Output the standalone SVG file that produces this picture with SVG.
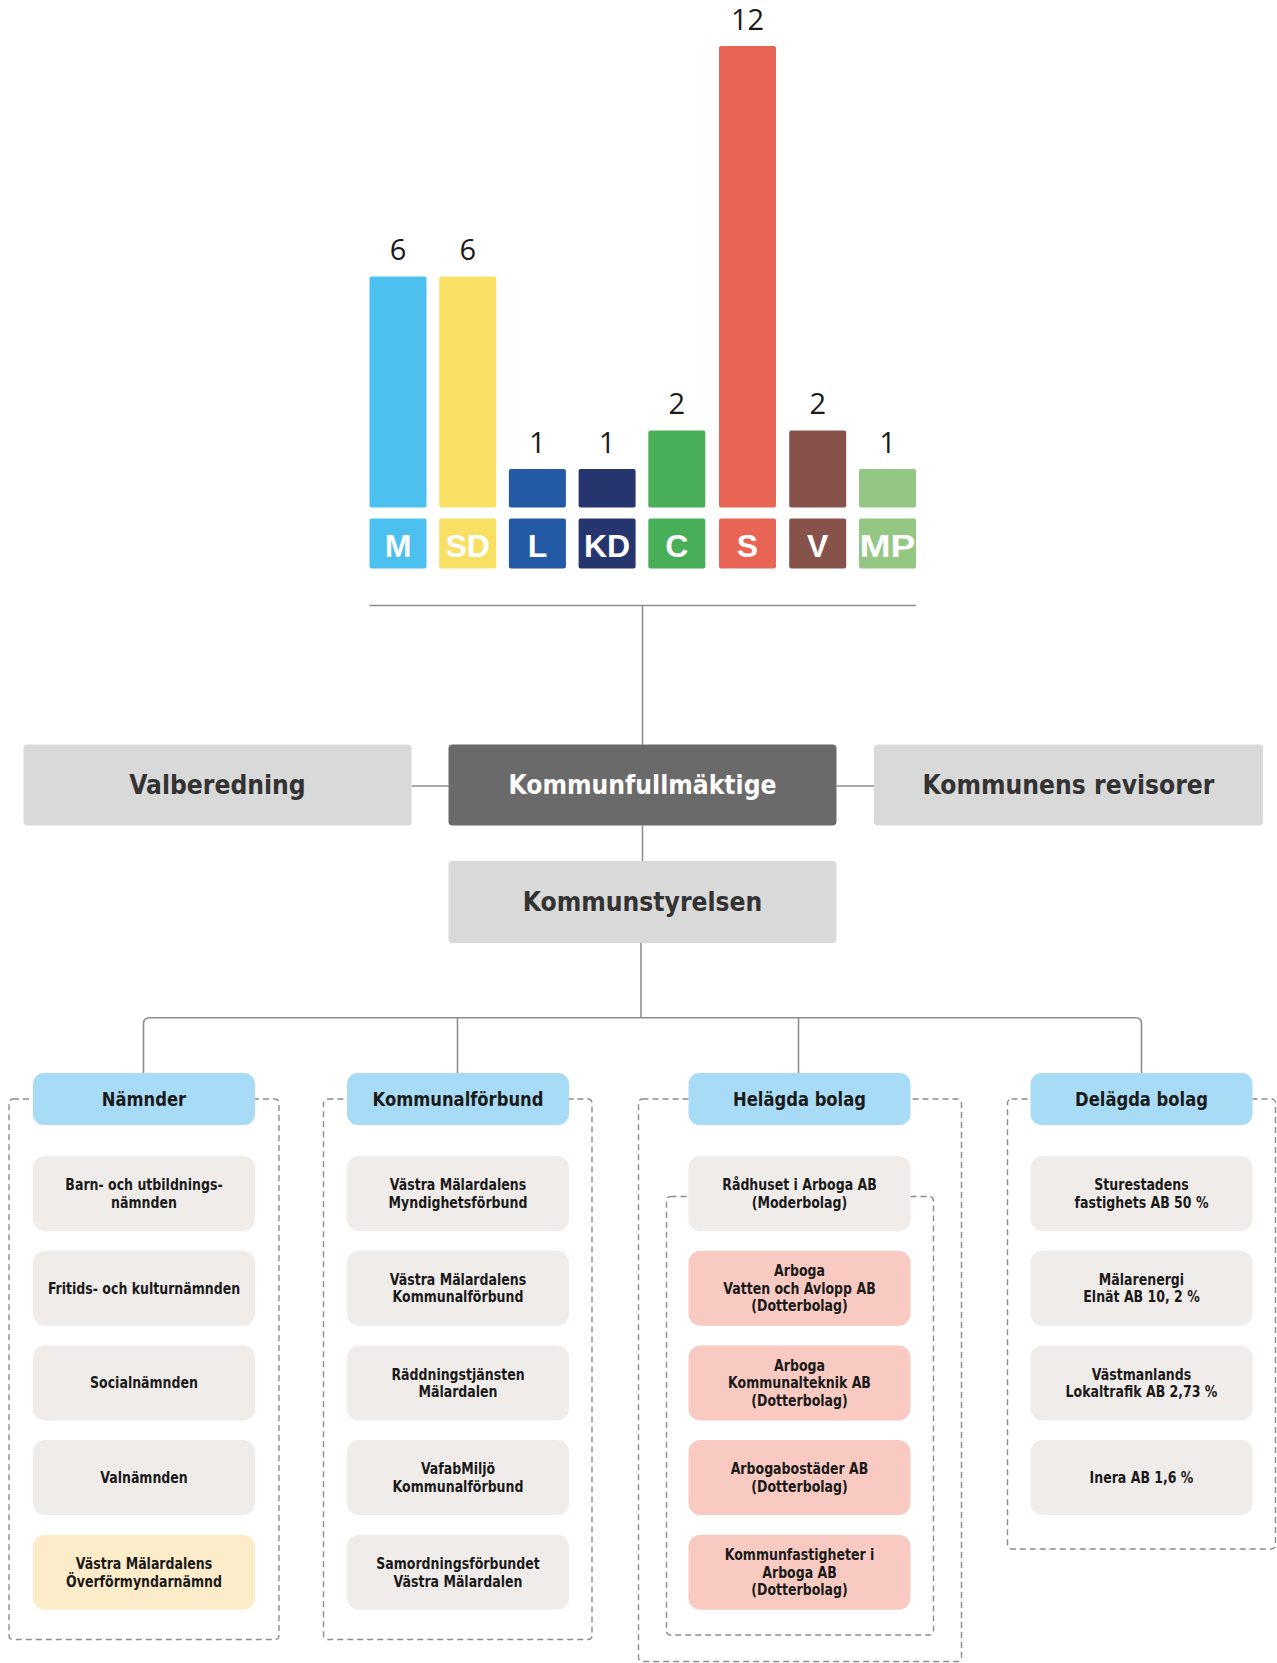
<svg xmlns="http://www.w3.org/2000/svg" width="1277" height="1663" viewBox="0 0 1277 1663">
<style>
.num{font-family:"Open Sans","Lato","Liberation Sans",sans-serif;font-size:29px;fill:#1a1a1a;text-anchor:middle}
.plab{font-family:"Liberation Sans","Arial",sans-serif;font-weight:bold;font-size:32px;fill:#ffffff;text-anchor:middle}
.cond{font-family:"Liberation Sans Narrow","DejaVu Sans Condensed","Roboto Condensed","Liberation Sans",sans-serif;font-stretch:condensed;font-weight:bold;text-anchor:middle}
.big{font-size:27px;fill:#333333}
.bigw{font-size:27px;fill:#ffffff}
.hd{font-size:20px;fill:#1a1a1a}
.ch{font-size:15px;fill:#1a1a1a}
.gbox{fill:#d9d9d9}
.hbox{fill:#a8dbf5}
.cbox{fill:#f0ecea}
.pbox{fill:#f8cac2}
.ybox{fill:#fdecc9}
.conn{fill:none;stroke:#8c8c8c;stroke-width:1.6}
.dash{fill:none;stroke:#8c8c8c;stroke-width:1.4;stroke-dasharray:6 4}
</style>

<g id="chart">
  <g id="party-M">
    <rect x="369.5" y="276.5" width="57" height="231" rx="2" fill="#4cc1ef"/>
    <text class="num" x="398" y="260">6</text>
    <rect x="369.5" y="518.5" width="57" height="50" rx="2" fill="#4cc1ef"/>
    <text class="plab" x="398" y="556.5">M</text>
  </g>
  <g id="party-SD">
    <rect x="439.2" y="276.5" width="57" height="231" rx="2" fill="#f8e064"/>
    <text class="num" x="467.7" y="260">6</text>
    <rect x="439.2" y="518.5" width="57" height="50" rx="2" fill="#f8e064"/>
    <text class="plab" x="467.7" y="556.5">SD</text>
  </g>
  <g id="party-L">
    <rect x="508.9" y="469" width="57" height="38.5" rx="2" fill="#2359a5"/>
    <text class="num" x="537.4" y="452.5">1</text>
    <rect x="508.9" y="518.5" width="57" height="50" rx="2" fill="#2359a5"/>
    <text class="plab" x="537.4" y="556.5">L</text>
  </g>
  <g id="party-KD">
    <rect x="578.6" y="469" width="57" height="38.5" rx="2" fill="#27356f"/>
    <text class="num" x="607.1" y="452.5">1</text>
    <rect x="578.6" y="518.5" width="57" height="50" rx="2" fill="#27356f"/>
    <text class="plab" x="607.1" y="556.5">KD</text>
  </g>
  <g id="party-C">
    <rect x="648.3" y="430.5" width="57" height="77" rx="2" fill="#48ae57"/>
    <text class="num" x="676.8" y="414">2</text>
    <rect x="648.3" y="518.5" width="57" height="50" rx="2" fill="#48ae57"/>
    <text class="plab" x="676.8" y="556.5">C</text>
  </g>
  <g id="party-S">
    <rect x="719" y="46" width="57" height="461.5" rx="2" fill="#e86454"/>
    <text class="num" x="747.5" y="30">12</text>
    <rect x="719" y="518.5" width="57" height="50" rx="2" fill="#e86454"/>
    <text class="plab" x="747.5" y="556.5">S</text>
  </g>
  <g id="party-V">
    <rect x="789.2" y="430.5" width="57" height="77" rx="2" fill="#87524a"/>
    <text class="num" x="817.7" y="414">2</text>
    <rect x="789.2" y="518.5" width="57" height="50" rx="2" fill="#87524a"/>
    <text class="plab" x="817.7" y="556.5">V</text>
  </g>
  <g id="party-MP">
    <rect x="859" y="469" width="57" height="38.5" rx="2" fill="#95c784"/>
    <text class="num" x="887.5" y="452.5">1</text>
    <rect x="859" y="518.5" width="57" height="50" rx="2" fill="#95c784"/>
    <text class="plab" x="887.5" y="556.5" textLength="56" lengthAdjust="spacingAndGlyphs">MP</text>
  </g>
</g>

<g id="connectors">
  <path class="conn" d="M369.5 605.5 H916"/>
  <path class="conn" d="M642.5 605.5 V744.5"/>
  <path class="conn" d="M411.5 786 H448.5"/>
  <path class="conn" d="M836.5 786 H874"/>
  <path class="conn" d="M642.5 825.5 V861"/>
  <path class="conn" d="M641 943 V1017.7"/>
  <path class="conn" d="M143.5 1073 V1023.7 Q143.5 1017.7 149.5 1017.7 H1135.5 Q1141.5 1017.7 1141.5 1023.7 V1073"/>
  <path class="conn" d="M457.5 1017.7 V1073"/>
  <path class="conn" d="M798.5 1017.7 V1073"/>
</g>

<g id="groups">
  <rect class="dash" x="9" y="1099" width="270" height="540.5" rx="4"/>
  <rect class="dash" x="323.5" y="1099" width="268.5" height="540.5" rx="4"/>
  <rect class="dash" x="638.5" y="1099" width="323" height="562.5" rx="4"/>
  <rect class="dash" x="666.5" y="1196.5" width="267" height="438.5" rx="4"/>
  <rect class="dash" x="1007.5" y="1099" width="268" height="450" rx="4"/>
</g>

<g id="valberedning">
  <rect class="gbox" x="23.5" y="744.5" width="388" height="81" rx="4"/>
  <text class="cond big" transform="matrix(0.97 0 0 1 217.5 0)" x="0" y="794">Valberedning</text>
</g>
<g id="kommunfullmaktige">
  <rect x="448.5" y="744.5" width="388" height="81" rx="4" fill="#6b6a6a"/>
  <text class="cond bigw" transform="matrix(0.97 0 0 1 642.5 0)" x="0" y="794">Kommunfullmäktige</text>
</g>
<g id="revisorer">
  <rect class="gbox" x="874" y="744.5" width="389" height="81" rx="4"/>
  <text class="cond big" transform="matrix(0.97 0 0 1 1068.5 0)" x="0" y="794">Kommunens revisorer</text>
</g>
<g id="kommunstyrelsen">
  <rect class="gbox" x="448.5" y="861" width="388" height="82" rx="4"/>
  <text class="cond big" transform="matrix(0.97 0 0 1 642.5 0)" x="0" y="911">Kommunstyrelsen</text>
</g>

<g id="h-namnder">
  <rect class="hbox" x="33" y="1073" width="222" height="52" rx="11"/>
  <text class="cond hd" transform="matrix(0.91 0 0 1 144 0)" x="0" y="1106">Nämnder</text>
</g>
<g id="h-kommunalforbund">
  <rect class="hbox" x="347" y="1073" width="222" height="52" rx="11"/>
  <text class="cond hd" transform="matrix(0.91 0 0 1 458 0)" x="0" y="1106">Kommunalförbund</text>
</g>
<g id="h-helagda">
  <rect class="hbox" x="688.5" y="1073" width="222" height="52" rx="11"/>
  <text class="cond hd" transform="matrix(0.91 0 0 1 799.5 0)" x="0" y="1106">Helägda bolag</text>
</g>
<g id="h-delagda">
  <rect class="hbox" x="1030.5" y="1073" width="222" height="52" rx="11"/>
  <text class="cond hd" transform="matrix(0.91 0 0 1 1141.5 0)" x="0" y="1106">Delägda bolag</text>
</g>

<g id="n1">
  <rect class="cbox" x="33" y="1156" width="222" height="75" rx="12"/>
  <text class="cond ch" transform="matrix(0.93 0 0 1 144 0)"><tspan x="0" y="1190.25">Barn- och utbildnings-</tspan><tspan x="0" y="1207.75">nämnden</tspan></text>
</g>
<g id="n2">
  <rect class="cbox" x="33" y="1250.7" width="222" height="75" rx="12"/>
  <text class="cond ch" transform="matrix(0.93 0 0 1 144 0)" x="0" y="1293.7">Fritids- och kulturnämnden</text>
</g>
<g id="n3">
  <rect class="cbox" x="33" y="1345.4" width="222" height="75" rx="12"/>
  <text class="cond ch" transform="matrix(0.93 0 0 1 144 0)" x="0" y="1388.4">Socialnämnden</text>
</g>
<g id="n4">
  <rect class="cbox" x="33" y="1440.1" width="222" height="75" rx="12"/>
  <text class="cond ch" transform="matrix(0.93 0 0 1 144 0)" x="0" y="1483.1">Valnämnden</text>
</g>
<g id="n5">
  <rect class="ybox" x="33" y="1534.8" width="222" height="75" rx="12"/>
  <text class="cond ch" transform="matrix(0.93 0 0 1 144 0)"><tspan x="0" y="1569.05">Västra Mälardalens</tspan><tspan x="0" y="1586.55">Överförmyndarnämnd</tspan></text>
</g>

<g id="k1">
  <rect class="cbox" x="347" y="1156" width="222" height="75" rx="12"/>
  <text class="cond ch" transform="matrix(0.93 0 0 1 458 0)"><tspan x="0" y="1190.25">Västra Mälardalens</tspan><tspan x="0" y="1207.75">Myndighetsförbund</tspan></text>
</g>
<g id="k2">
  <rect class="cbox" x="347" y="1250.7" width="222" height="75" rx="12"/>
  <text class="cond ch" transform="matrix(0.93 0 0 1 458 0)"><tspan x="0" y="1284.95">Västra Mälardalens</tspan><tspan x="0" y="1302.45">Kommunalförbund</tspan></text>
</g>
<g id="k3">
  <rect class="cbox" x="347" y="1345.4" width="222" height="75" rx="12"/>
  <text class="cond ch" transform="matrix(0.93 0 0 1 458 0)"><tspan x="0" y="1379.65">Räddningstjänsten</tspan><tspan x="0" y="1397.15">Mälardalen</tspan></text>
</g>
<g id="k4">
  <rect class="cbox" x="347" y="1440.1" width="222" height="75" rx="12"/>
  <text class="cond ch" transform="matrix(0.93 0 0 1 458 0)"><tspan x="0" y="1474.35">VafabMiljö</tspan><tspan x="0" y="1491.85">Kommunalförbund</tspan></text>
</g>
<g id="k5">
  <rect class="cbox" x="347" y="1534.8" width="222" height="75" rx="12"/>
  <text class="cond ch" transform="matrix(0.93 0 0 1 458 0)"><tspan x="0" y="1569.05">Samordningsförbundet</tspan><tspan x="0" y="1586.55">Västra Mälardalen</tspan></text>
</g>

<g id="b1">
  <rect class="cbox" x="688.5" y="1156" width="222" height="75" rx="12"/>
  <text class="cond ch" transform="matrix(0.93 0 0 1 799.5 0)"><tspan x="0" y="1190.25">Rådhuset i Arboga AB</tspan><tspan x="0" y="1207.75">(Moderbolag)</tspan></text>
</g>
<g id="b2">
  <rect class="pbox" x="688.5" y="1250.7" width="222" height="75" rx="12"/>
  <text class="cond ch" transform="matrix(0.93 0 0 1 799.5 0)"><tspan x="0" y="1276.2">Arboga</tspan><tspan x="0" y="1293.7">Vatten och Avlopp AB</tspan><tspan x="0" y="1311.2">(Dotterbolag)</tspan></text>
</g>
<g id="b3">
  <rect class="pbox" x="688.5" y="1345.4" width="222" height="75" rx="12"/>
  <text class="cond ch" transform="matrix(0.93 0 0 1 799.5 0)"><tspan x="0" y="1370.9">Arboga</tspan><tspan x="0" y="1388.4">Kommunalteknik AB</tspan><tspan x="0" y="1405.9">(Dotterbolag)</tspan></text>
</g>
<g id="b4">
  <rect class="pbox" x="688.5" y="1440.1" width="222" height="75" rx="12"/>
  <text class="cond ch" transform="matrix(0.93 0 0 1 799.5 0)"><tspan x="0" y="1474.35">Arbogabostäder AB</tspan><tspan x="0" y="1491.85">(Dotterbolag)</tspan></text>
</g>
<g id="b5">
  <rect class="pbox" x="688.5" y="1534.8" width="222" height="75" rx="12"/>
  <text class="cond ch" transform="matrix(0.93 0 0 1 799.5 0)"><tspan x="0" y="1560.3">Kommunfastigheter i</tspan><tspan x="0" y="1577.8">Arboga AB</tspan><tspan x="0" y="1595.3">(Dotterbolag)</tspan></text>
</g>

<g id="d1">
  <rect class="cbox" x="1030.5" y="1156" width="222" height="75" rx="12"/>
  <text class="cond ch" transform="matrix(0.93 0 0 1 1141.5 0)"><tspan x="0" y="1190.25">Sturestadens</tspan><tspan x="0" y="1207.75">fastighets AB 50 %</tspan></text>
</g>
<g id="d2">
  <rect class="cbox" x="1030.5" y="1250.7" width="222" height="75" rx="12"/>
  <text class="cond ch" transform="matrix(0.93 0 0 1 1141.5 0)"><tspan x="0" y="1284.95">Mälarenergi</tspan><tspan x="0" y="1302.45">Elnät AB 10, 2 %</tspan></text>
</g>
<g id="d3">
  <rect class="cbox" x="1030.5" y="1345.4" width="222" height="75" rx="12"/>
  <text class="cond ch" transform="matrix(0.93 0 0 1 1141.5 0)"><tspan x="0" y="1379.65">Västmanlands</tspan><tspan x="0" y="1397.15">Lokaltrafik AB 2,73 %</tspan></text>
</g>
<g id="d4">
  <rect class="cbox" x="1030.5" y="1440.1" width="222" height="75" rx="12"/>
  <text class="cond ch" transform="matrix(0.93 0 0 1 1141.5 0)" x="0" y="1483.1">Inera AB 1,6 %</text>
</g>
</svg>
